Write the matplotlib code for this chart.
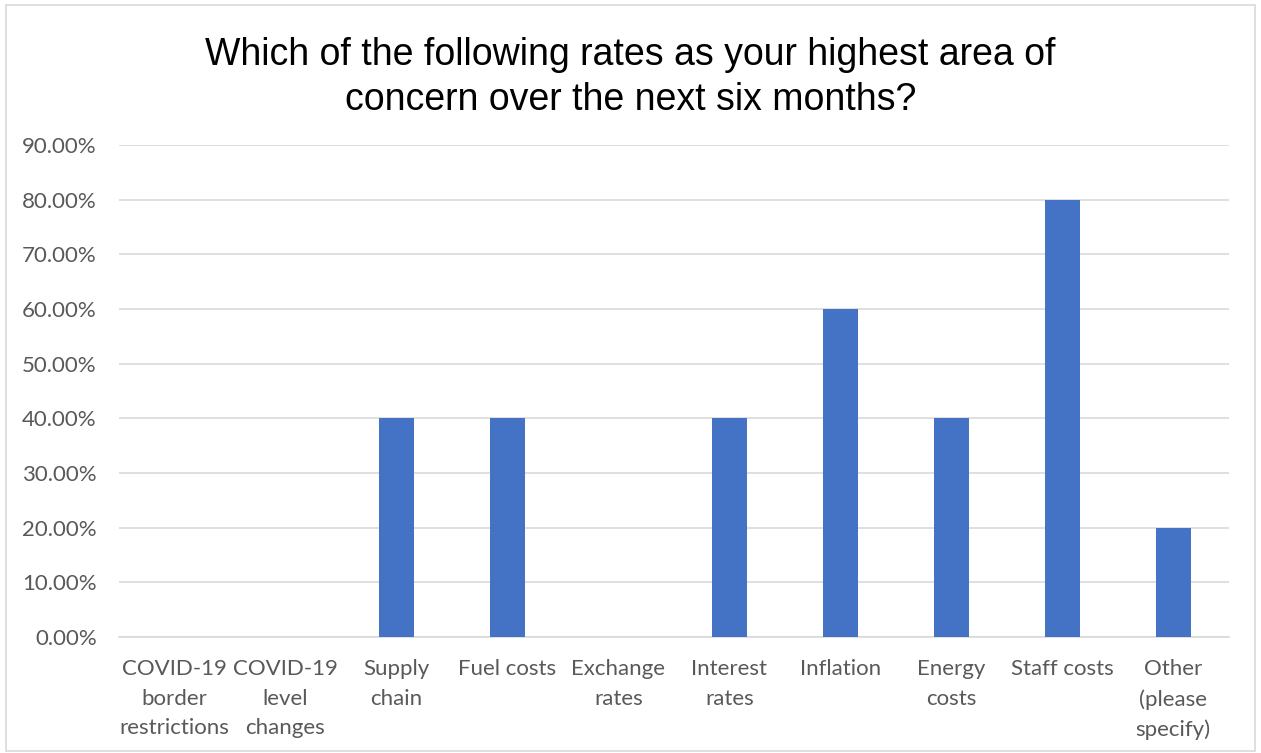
import matplotlib.pyplot as plt
from matplotlib.patches import Rectangle
from matplotlib.ticker import FuncFormatter

categories = ["COVID-19\nborder\nrestrictions", "COVID-19\nlevel\nchanges", "Supply\nchain",
              "Fuel costs", "Exchange\nrates", "Interest\nrates", "Inflation",
              "Energy\ncosts", "Staff costs", "Other\n(please\nspecify)"]
values = [0.0, 0.0, 0.40, 0.40, 0.0, 0.40, 0.60, 0.40, 0.80, 0.20]
yticks = [0.0, 0.1, 0.2, 0.3, 0.4, 0.5, 0.6, 0.7, 0.8, 0.9]

fig = plt.figure(figsize=(12.61, 7.53), dpi=100)
fig.patches.append(Rectangle((0.005, 0.003), 0.99, 0.99, transform=fig.transFigure,
                             fill=False, edgecolor="#d9d9d9", lw=1.2))
ax = fig.add_axes([0.0944, 0.154, 0.880, 0.6534])

x = range(len(categories))
ax.bar(x, values, width=0.315, color="#4472c4", zorder=3)
ax.set_xlim(-0.5, len(categories) - 0.5)
ax.set_ylim(0, 0.9)
ax.set_yticks(yticks)
ax.yaxis.set_major_formatter(FuncFormatter(lambda v, p: f"{v*100:.2f}%"))
ax.grid(axis="y", color="#d9d9d9", lw=1.2, zorder=0)
for s in ["top", "right", "left"]:
    ax.spines[s].set_visible(False)
ax.spines["bottom"].set_color("#d9d9d9")
ax.spines["bottom"].set_linewidth(1.2)
ax.tick_params(length=0, colors="#595959", labelsize=16)
ax.tick_params(axis="x", pad=16)
ax.tick_params(axis="y", pad=16)
ax.set_xticks(list(x))
ax.set_xticklabels(categories, linespacing=1.6, fontfamily="Lato")
for t in ax.get_yticklabels():
    t.set_fontfamily("Lato")

fig.text(0.5, 0.8975, "Which of the following rates as your highest area of\nconcern over the next six months?",
         ha="center", va="center", fontsize=27, fontfamily="Liberation Sans", linespacing=1.33)

fig.savefig("out.png", dpi=100)
